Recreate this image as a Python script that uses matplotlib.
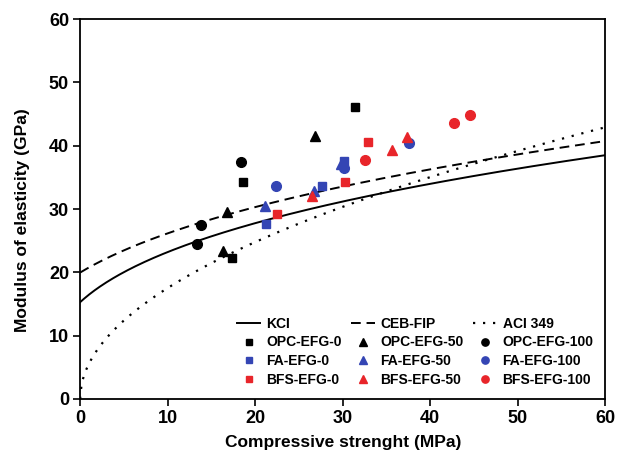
import numpy as np
import matplotlib
matplotlib.use("Agg")
import matplotlib.pyplot as plt

plt.rcParams['font.family'] = ['Liberation Sans', 'DejaVu Sans']
plt.rcParams['font.weight'] = 'bold'

# measured points (compressive strength MPa, modulus GPa)
opc0_x = [17.3, 18.6, 31.4]
opc0_y = [22.2, 34.2, 46.1]
opc50_x = [16.3, 16.8, 26.8]
opc50_y = [23.4, 29.5, 41.5]
opc100_x = [13.4, 13.8, 18.4]
opc100_y = [24.5, 27.5, 37.5]
fa0_x = [21.2, 27.6, 30.2]
fa0_y = [27.6, 33.6, 37.6]
fa50_x = [21.1, 26.7, 29.8]
fa50_y = [30.5, 32.8, 37.1]
fa100_x = [22.4, 30.1, 37.6]
fa100_y = [33.6, 36.5, 40.4]
bfs0_x = [22.5, 30.3, 32.9]
bfs0_y = [29.2, 34.2, 40.6]
bfs50_x = [26.5, 35.6, 37.3]
bfs50_y = [32.1, 39.4, 41.3]
bfs100_x = [32.5, 42.7, 44.5]
bfs100_y = [37.7, 43.6, 44.9]

# code prediction curves
fc = np.linspace(0, 60, 400)
kci = 9.625 * (fc + 4) ** (1 / 3)
ceb = 21.5 * ((fc + 8) / 10) ** (1 / 3)
aci = 5.54 * np.sqrt(fc)

blk = 'black'
blu = '#3445b4'
red = '#e8252a'

fig = plt.figure(figsize=(6.26, 4.66), dpi=100)
ax = fig.add_axes([0.128, 0.144, 0.839, 0.815])

l1, = ax.plot(fc, kci, color='black', lw=1.4, label='KCI')
l2, = ax.plot(fc, ceb, color='black', lw=1.4, dashes=(5, 3), label='CEB-FIP')
l3, = ax.plot(fc, aci, color='black', lw=1.6, dashes=(1, 3.5), label='ACI 349')

sq, tr, ci = 6, 7.5, 7
s1, = ax.plot(opc0_x, opc0_y, 's', color=blk, ms=sq, ls='none', label='OPC-EFG-0')
s2, = ax.plot(opc50_x, opc50_y, '^', color=blk, ms=tr, ls='none', label='OPC-EFG-50')
s3, = ax.plot(opc100_x, opc100_y, 'o', color=blk, ms=ci, ls='none', label='OPC-EFG-100')
s4, = ax.plot(fa0_x, fa0_y, 's', color=blu, ms=sq, ls='none', label='FA-EFG-0')
s5, = ax.plot(fa50_x, fa50_y, '^', color=blu, ms=tr, ls='none', label='FA-EFG-50')
s6, = ax.plot(fa100_x, fa100_y, 'o', color=blu, ms=ci, ls='none', label='FA-EFG-100')
s7, = ax.plot(bfs0_x, bfs0_y, 's', color=red, ms=sq, ls='none', label='BFS-EFG-0')
s8, = ax.plot(bfs50_x, bfs50_y, '^', color=red, ms=tr, ls='none', label='BFS-EFG-50')
s9, = ax.plot(bfs100_x, bfs100_y, 'o', color=red, ms=ci, ls='none', label='BFS-EFG-100')

handles = [l1, s1, s4, s7, l2, s2, s5, s8, l3, s3, s6, s9]
ax.legend(handles=handles, ncol=3, loc='lower right', frameon=False,
          prop={'weight': 'bold', 'size': 10}, handlelength=1.7,
          handletextpad=0.4, columnspacing=0.7, labelspacing=0.35,
          markerscale=0.75, bbox_to_anchor=(1.0, 0.0), borderaxespad=0.45)

ax.set_xlim(0, 60)
ax.set_ylim(0, 60)
ax.set_xticks(range(0, 61, 10))
ax.set_yticks(range(0, 61, 10))
ax.tick_params(direction='out', length=5, width=1.2, labelsize=13, pad=3)
for t in ax.get_xticklabels() + ax.get_yticklabels():
    t.set_fontweight('bold')
for sp in ax.spines.values():
    sp.set_linewidth(1.3)

ax.set_xlabel('Compressive strenght (MPa)', fontsize=12.5, fontweight='bold', labelpad=6)
ax.set_ylabel('Modulus of elasticity (GPa)', fontsize=12.5, fontweight='bold')
ax.yaxis.set_label_coords(-0.096, 0.47)

fig.savefig('out.png', dpi=100)
